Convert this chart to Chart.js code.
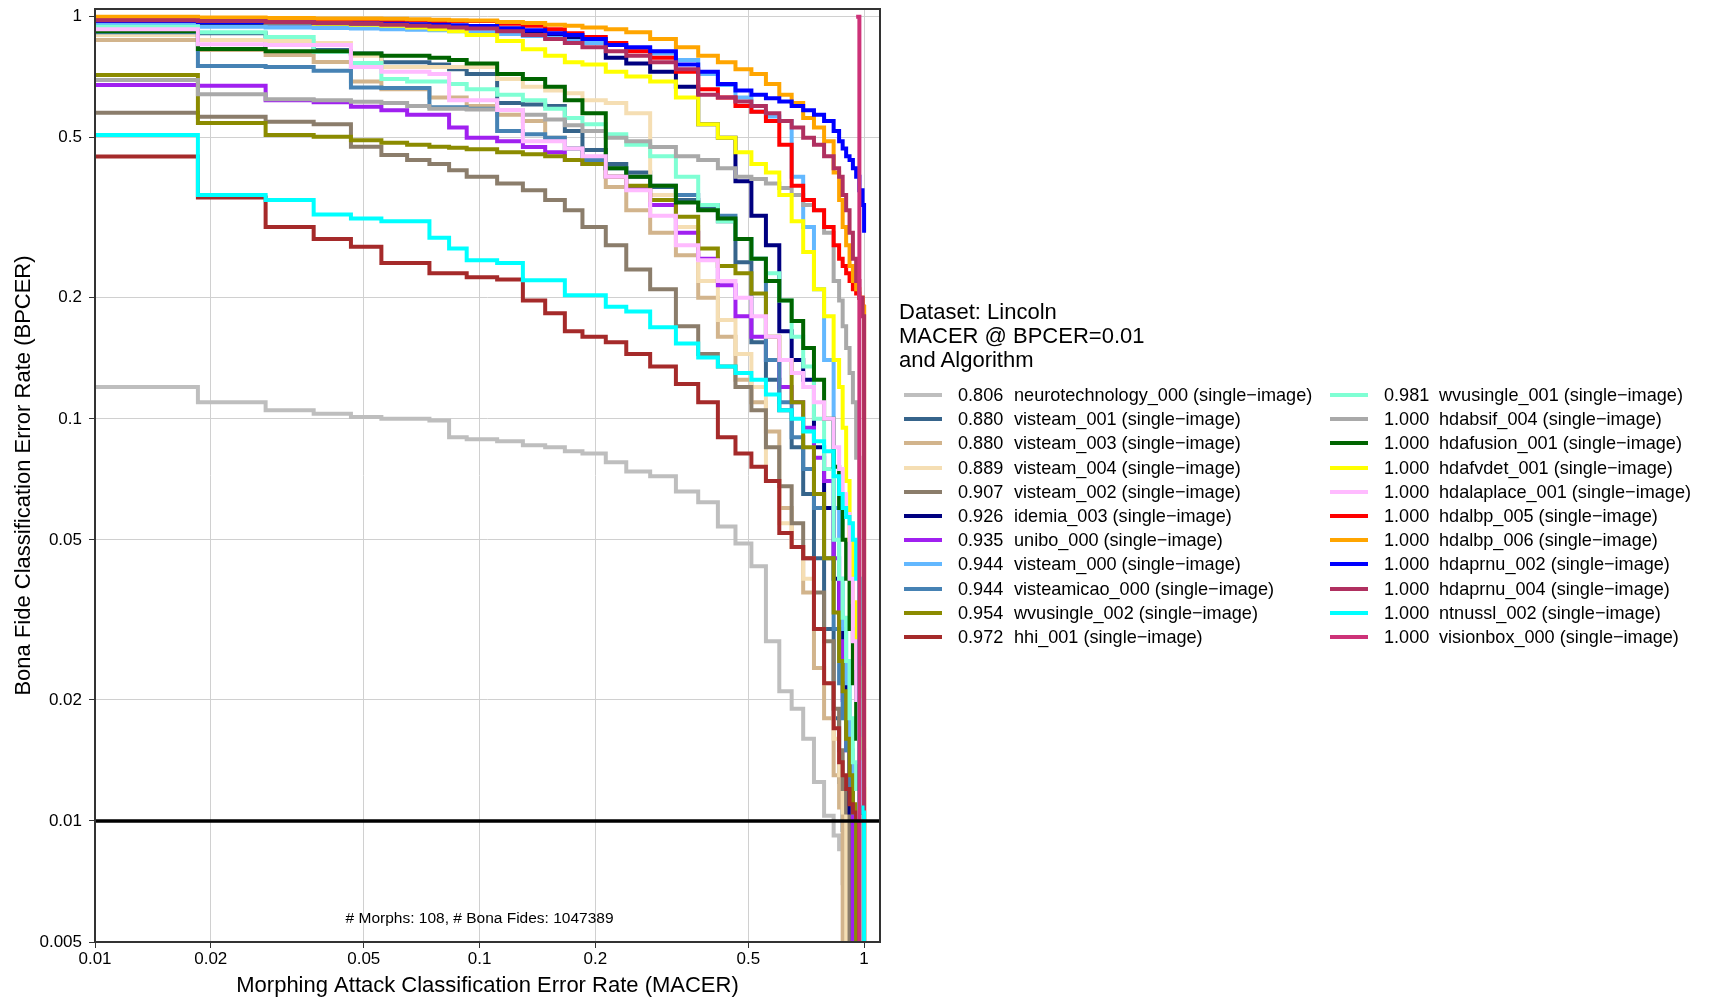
<!DOCTYPE html>
<html>
<head>
<meta charset="utf-8">
<title>DET curves - Lincoln</title>
<script src="https://cdn.jsdelivr.net/npm/chart.js@4.4.1/dist/chart.umd.min.js"></script>
<style>
  html, body { margin: 0; padding: 0; background: #fff; overflow: hidden; }
  #wrap { position: relative; width: 1709px; height: 1003px; font-family: "Liberation Sans", Arial, sans-serif; color: #000; }
  #det { position: absolute; left: 0; top: 0; }
  .lg-title { position: absolute; left: 899px; top: 300px; font-size: 22px; line-height: 24px; white-space: nowrap; }
  .lg-key { position: absolute; width: 38px; height: 4px; }
  .lg-text { position: absolute; font-size: 18.1px; line-height: 24px; white-space: nowrap; }
</style>
</head>
<body>
<div id="wrap">
  <canvas id="det" width="1709" height="1003"></canvas>
  <div id="legend"></div>
</div>
<script>
// Morphs accepted as bona fide out of 108; MACER = count / morphTotal
const morphTotal = 108;
const acceptedMorphs = [1, 2, 3, 4, 5, 6, 7, 8, 9, 10, 12, 14, 16, 18, 20, 23, 26, 30,
  35, 40, 45, 50, 55, 60, 65, 70, 75, 80, 85, 90, 93, 95, 97, 99, 101, 103, 105, 107, 108];

const algorithms = [
  'neurotechnology_000', 'visteam_001', 'visteam_003', 'visteam_004', 'visteam_002',
  'idemia_003', 'unibo_000', 'visteam_000', 'visteamicao_000', 'wvusingle_002', 'hhi_001',
  'wvusingle_001', 'hdabsif_004', 'hdafusion_001', 'hdafvdet_001', 'hdalaplace_001',
  'hdalbp_005', 'hdalbp_006', 'hdaprnu_002', 'hdaprnu_004', 'ntnussl_002', 'visionbox_000'
];
const macerAtBpcer001 = [0.806, 0.880, 0.880, 0.889, 0.907, 0.926, 0.935, 0.944, 0.944, 0.954, 0.972,
  0.981, 1.000, 1.000, 1.000, 1.000, 1.000, 1.000, 1.000, 1.000, 1.000, 1.000];

// BPCER reached at each entry of acceptedMorphs
const bpcerNeurotechnology000 = [0.12, 0.11, 0.105, 0.103, 0.101, 0.1, 0.1, 0.099, 0.09, 0.089,
  0.088, 0.086, 0.085, 0.083, 0.082, 0.078, 0.074, 0.072,
  0.066, 0.062, 0.054, 0.049, 0.043, 0.028, 0.021, 0.019, 0.016, 0.0125, 0.0103, 0.0092,
  0.0085, 0.007, 0.004];
const bpcerVisteam001 = [0.915, 0.91, 0.85, 0.826, 0.81, 0.77, 0.77, 0.76, 0.74, 0.72,
  0.61, 0.605, 0.6, 0.52, 0.466, 0.43, 0.41, 0.377,
  0.35, 0.335, 0.31, 0.245, 0.155, 0.125, 0.105, 0.085, 0.065, 0.045, 0.03, 0.018,
  0.0125, 0.0095, 0.004];
const bpcerVisteam003 = [0.875, 0.826, 0.803, 0.771, 0.69, 0.66, 0.66, 0.63, 0.63, 0.6,
  0.57, 0.55, 0.5, 0.47, 0.44, 0.377, 0.33, 0.29,
  0.255, 0.2, 0.16, 0.125, 0.11, 0.093, 0.06, 0.048, 0.037, 0.024, 0.018, 0.013,
  0.0108, 0.004];
const bpcerVisteam004 = [0.9, 0.875, 0.87, 0.86, 0.8, 0.75, 0.75, 0.75, 0.75, 0.75,
  0.7, 0.67, 0.655, 0.645, 0.62, 0.61, 0.575, 0.36,
  0.3, 0.22, 0.176, 0.145, 0.12, 0.07, 0.055, 0.048, 0.04, 0.03, 0.022, 0.016,
  0.013, 0.0105, 0.004];
const bpcerVisteam002 = [0.577, 0.564, 0.548, 0.54, 0.475, 0.453, 0.44, 0.43, 0.415, 0.4,
  0.385, 0.37, 0.35, 0.33, 0.3, 0.27, 0.235, 0.21,
  0.17, 0.145, 0.135, 0.12, 0.105, 0.085, 0.068, 0.055, 0.045, 0.037, 0.028, 0.019,
  0.015, 0.012, 0.0105, 0.004];
const bpcerIdemia003 = [0.977, 0.965, 0.962, 0.96, 0.958, 0.955, 0.952, 0.95, 0.947, 0.945,
  0.935, 0.92, 0.9, 0.88, 0.86, 0.79, 0.765, 0.73,
  0.67, 0.54, 0.5, 0.39, 0.32, 0.27, 0.165, 0.14, 0.125, 0.085, 0.06, 0.04,
  0.03, 0.022, 0.016, 0.0105, 0.004];
const bpcerUnibo000 = [0.676, 0.673, 0.62, 0.613, 0.597, 0.585, 0.57, 0.57, 0.53, 0.5,
  0.49, 0.474, 0.46, 0.44, 0.43, 0.4, 0.377, 0.34,
  0.29, 0.25, 0.215, 0.18, 0.16, 0.14, 0.12, 0.11, 0.095, 0.08, 0.07, 0.045,
  0.028, 0.02, 0.015, 0.012, 0.004];
const bpcerVisteam000 = [0.954, 0.944, 0.94, 0.937, 0.934, 0.93, 0.928, 0.925, 0.92, 0.915,
  0.905, 0.895, 0.885, 0.87, 0.86, 0.85, 0.835, 0.81,
  0.78, 0.72, 0.676, 0.63, 0.58, 0.565, 0.55, 0.4, 0.3, 0.21, 0.14, 0.06,
  0.04, 0.03, 0.022, 0.015, 0.0105, 0.004];
const bpcerVisteamicao000 = [0.915, 0.754, 0.75, 0.734, 0.667, 0.665, 0.665, 0.595, 0.595, 0.59,
  0.52, 0.51, 0.5, 0.47, 0.44, 0.42, 0.4, 0.38,
  0.36, 0.34, 0.32, 0.28, 0.25, 0.14, 0.11, 0.09, 0.075, 0.06, 0.045, 0.03,
  0.022, 0.018, 0.015, 0.012, 0.0105, 0.004];
const bpcerWvusingle002 = [0.716, 0.544, 0.508, 0.503, 0.493, 0.486, 0.48, 0.475, 0.472, 0.468,
  0.46, 0.455, 0.45, 0.44, 0.43, 0.4, 0.38, 0.35,
  0.318, 0.265, 0.24, 0.23, 0.205, 0.16, 0.14, 0.11, 0.085, 0.065, 0.045, 0.033,
  0.025, 0.021, 0.016, 0.013, 0.011, 0.004];
const bpcerHhi001 = [0.449, 0.355, 0.3, 0.28, 0.268, 0.244, 0.244, 0.23, 0.23, 0.225,
  0.222, 0.197, 0.183, 0.165, 0.16, 0.155, 0.145, 0.135,
  0.122, 0.11, 0.09, 0.082, 0.076, 0.07, 0.052, 0.048, 0.045, 0.03, 0.022, 0.017,
  0.014, 0.013, 0.012, 0.011, 0.0105, 0.0102, 0.004];
const bpcerWvusingle001 = [0.944, 0.915, 0.89, 0.818, 0.767, 0.7, 0.69, 0.69, 0.68, 0.66,
  0.64, 0.62, 0.59, 0.56, 0.54, 0.51, 0.48, 0.45,
  0.4, 0.34, 0.31, 0.28, 0.25, 0.23, 0.197, 0.16, 0.135, 0.1, 0.075, 0.05,
  0.04, 0.032, 0.025, 0.018, 0.014, 0.012, 0.0102, 0.004];
const bpcerHdabsif004 = [0.696, 0.641, 0.623, 0.62, 0.614, 0.61, 0.6, 0.59, 0.59, 0.588,
  0.586, 0.57, 0.555, 0.537, 0.52, 0.5, 0.49, 0.474,
  0.45, 0.44, 0.42, 0.4, 0.395, 0.385, 0.375, 0.36, 0.34, 0.33, 0.29, 0.22,
  0.197, 0.17, 0.15, 0.13, 0.11, 0.08, 0.04, 0.015, 0.004];
const bpcerHdafusion001 = [0.92, 0.831, 0.82, 0.82, 0.81, 0.8, 0.8, 0.79, 0.78, 0.765,
  0.72, 0.7, 0.67, 0.62, 0.575, 0.42, 0.4, 0.38,
  0.345, 0.33, 0.315, 0.28, 0.25, 0.22, 0.197, 0.175, 0.15, 0.125, 0.1, 0.076,
  0.06, 0.05, 0.04, 0.03, 0.022, 0.016, 0.012, 0.0105, 0.004];
const bpcerHdafvdet001 = [0.975, 0.97, 0.965, 0.96, 0.955, 0.95, 0.94, 0.93, 0.92, 0.9,
  0.87, 0.83, 0.8, 0.77, 0.76, 0.73, 0.71, 0.69,
  0.63, 0.54, 0.5, 0.46, 0.43, 0.41, 0.36, 0.31, 0.26, 0.21, 0.18, 0.14,
  0.12, 0.095, 0.07, 0.05, 0.035, 0.024, 0.016, 0.012, 0.004];
const bpcerHdalaplace001 = [0.93, 0.854, 0.85, 0.85, 0.75, 0.73, 0.73, 0.72, 0.62, 0.62,
  0.586, 0.49, 0.49, 0.47, 0.45, 0.4, 0.37, 0.32,
  0.27, 0.248, 0.22, 0.2, 0.18, 0.16, 0.14, 0.13, 0.12, 0.11, 0.1, 0.085,
  0.075, 0.065, 0.058, 0.04, 0.028, 0.02, 0.014, 0.011, 0.004];
const bpcerHdalbp005 = [0.998, 0.99, 0.988, 0.985, 0.983, 0.98, 0.978, 0.976, 0.975, 0.975,
  0.96, 0.95, 0.93, 0.91, 0.89, 0.86, 0.82, 0.79,
  0.73, 0.66, 0.63, 0.6, 0.58, 0.55, 0.48, 0.38, 0.35, 0.33, 0.3, 0.27,
  0.25, 0.24, 0.23, 0.22, 0.21, 0.205, 0.2, 0.19, 0.004];
const bpcerHdalbp006 = [1.0, 0.995, 0.993, 0.99, 0.99, 0.988, 0.985, 0.983, 0.98, 0.978,
  0.97, 0.965, 0.955, 0.95, 0.94, 0.93, 0.915, 0.88,
  0.84, 0.8, 0.77, 0.74, 0.72, 0.68, 0.64, 0.61, 0.56, 0.53, 0.49, 0.41,
  0.35, 0.3, 0.27, 0.24, 0.22, 0.21, 0.2, 0.19, 0.004];
const bpcerHdaprnu002 = [0.975, 0.97, 0.967, 0.965, 0.962, 0.96, 0.957, 0.955, 0.952, 0.948,
  0.935, 0.925, 0.91, 0.9, 0.88, 0.85, 0.84, 0.82,
  0.76, 0.73, 0.68, 0.655, 0.64, 0.627, 0.615, 0.6, 0.585, 0.57, 0.55, 0.52,
  0.49, 0.47, 0.45, 0.44, 0.42, 0.4, 0.37, 0.34, 0.29];
const bpcerHdaprnu004 = [0.98, 0.975, 0.97, 0.965, 0.96, 0.955, 0.95, 0.945, 0.94, 0.935,
  0.92, 0.9, 0.88, 0.86, 0.84, 0.82, 0.8, 0.77,
  0.74, 0.64, 0.63, 0.615, 0.6, 0.575, 0.55, 0.53, 0.5, 0.48, 0.45, 0.42,
  0.4, 0.36, 0.33, 0.29, 0.25, 0.22, 0.2, 0.18, 0.004];
const bpcerNtnussl002 = [0.508, 0.36, 0.35, 0.322, 0.315, 0.31, 0.31, 0.282, 0.265, 0.248,
  0.244, 0.221, 0.221, 0.203, 0.203, 0.19, 0.185, 0.169,
  0.154, 0.142, 0.135, 0.13, 0.125, 0.115, 0.105, 0.1, 0.093, 0.088, 0.083, 0.072,
  0.065, 0.06, 0.057, 0.055, 0.05, 0.04, 0.0108, 0.0105, 0.004];
// visionbox stays at MACER ~0.97 over the whole threshold range
const bpcerVisionbox000 = [null, null, null, null, null, null, null, null, null, null,
  null, null, null, null, null, null, null, null,
  null, null, null, null, null, null, null, null, null, null, null, null,
  null, null, null, null, null, 1.0, 0.004];

const bpcerSeries = [
  bpcerNeurotechnology000, bpcerVisteam001, bpcerVisteam003, bpcerVisteam004, bpcerVisteam002,
  bpcerIdemia003, bpcerUnibo000, bpcerVisteam000, bpcerVisteamicao000, bpcerWvusingle002, bpcerHhi001,
  bpcerWvusingle001, bpcerHdabsif004, bpcerHdafusion001, bpcerHdafvdet001, bpcerHdalaplace001,
  bpcerHdalbp005, bpcerHdalbp006, bpcerHdaprnu002, bpcerHdaprnu004, bpcerNtnussl002, bpcerVisionbox000
];

const xTicks = [0.01, 0.02, 0.05, 0.1, 0.2, 0.5, 1];
const xTickLabels = ['0.01', '0.02', '0.05', '0.1', '0.2', '0.5', '1'];
const yTicks = [0.005, 0.01, 0.02, 0.05, 0.1, 0.2, 0.5, 1];
const yTickLabels = ['0.005', '0.01', '0.02', '0.05', '0.1', '0.2', '0.5', '1'];
const operatingBpcer = 0.01;
const countsNote = '# Morphs: 108, # Bona Fides: 1047389';

const lineColors = [
  '#BEBEBE', '#36648B', '#D2B48C', '#F5DEB3', '#8B7D6B', '#000080', '#A020F0', '#63B8FF',
  '#4682B4', '#8B8B00', '#A52A2A', '#7FFFD4', '#A9A9A9', '#006400', '#FFFF00', '#FFBBFF',
  '#FF0000', '#FFA500', '#0000FF', '#B03060', '#00FFFF', '#CD3278'
];

const FONT = '"Liberation Sans", Arial, sans-serif';
Chart.defaults.font.family = FONT;
Chart.defaults.color = '#000';

// threshold line, sample-size note and panel frame on top of the curves
const panelExtras = {
  id: 'panelExtras',
  afterDatasetsDraw(chart) {
    const { ctx, chartArea: a, scales } = chart;
    ctx.save();
    const yOp = scales.y.getPixelForValue(operatingBpcer);
    ctx.strokeStyle = '#000';
    ctx.lineWidth = 3.5;
    ctx.beginPath();
    ctx.moveTo(a.left, yOp);
    ctx.lineTo(a.right, yOp);
    ctx.stroke();

    ctx.font = '15.5px ' + FONT;
    ctx.fillStyle = '#000';
    ctx.textAlign = 'center';
    ctx.textBaseline = 'middle';
    ctx.fillText(countsNote, scales.x.getPixelForValue(0.1), scales.y.getPixelForValue(0.0057));

    ctx.strokeStyle = '#333';
    ctx.lineWidth = 2;
    ctx.strokeRect(a.left, a.top, a.right - a.left, a.bottom - a.top);
    ctx.restore();
  }
};

const datasets = algorithms.map((name, i) => ({
  label: name,
  data: bpcerSeries[i].map((v, j) => ({ x: acceptedMorphs[j] / morphTotal, y: v })),
  borderColor: lineColors[i],
  backgroundColor: lineColors[i],
  borderWidth: 4,
  pointRadius: 0,
  stepped: true,
  fill: false,
  order: algorithms.length - i
}));

const gridStyle = { color: '#d0d0d0', lineWidth: 1, tickColor: '#333', tickLength: 6 };

new Chart(document.getElementById('det'), {
  type: 'line',
  data: { datasets },
  options: {
    responsive: false,
    animation: false,
    events: [],
    layout: { padding: { left: 0, top: 9, right: 829, bottom: 0 } },
    plugins: { legend: { display: false }, tooltip: { enabled: false } },
    scales: {
      x: {
        type: 'logarithmic',
        min: 0.01,
        max: 1.1,
        afterBuildTicks: s => { s.ticks = xTicks.map(v => ({ value: v })); },
        afterFit: s => { s.height = 61; s.paddingLeft = 0; s.paddingRight = 0; },
        ticks: {
          callback: v => xTickLabels[xTicks.indexOf(v)] ?? '',
          font: { size: 17 }, color: '#000', padding: 1, autoSkip: false, maxRotation: 0
        },
        grid: gridStyle,
        border: { display: false },
        title: {
          display: true, text: 'Morphing Attack Classification Error Rate (MACER)',
          font: { size: 22 }, color: '#000', padding: { top: 0, bottom: 4 }
        }
      },
      y: {
        type: 'logarithmic',
        min: 0.005,
        max: 1.045,
        afterBuildTicks: s => { s.ticks = yTicks.map(v => ({ value: v })); },
        afterFit: s => { s.width = 95; s.paddingTop = 0; s.paddingBottom = 0; },
        ticks: {
          callback: v => yTickLabels[yTicks.indexOf(v)] ?? '',
          font: { size: 17 }, color: '#000', padding: 7, autoSkip: false
        },
        grid: gridStyle,
        border: { display: false },
        title: {
          display: true, text: 'Bona Fide Classification Error Rate (BPCER)',
          font: { size: 22 }, color: '#000', padding: { top: 11, bottom: 0 }
        }
      }
    }
  },
  plugins: [panelExtras]
});

// legend: title plus two columns of key, MACER value and algorithm name
const legend = document.getElementById('legend');
const title = document.createElement('div');
title.className = 'lg-title';
title.innerHTML = 'Dataset: Lincoln<br>MACER @ BPCER=0.01<br>and Algorithm';
legend.appendChild(title);

algorithms.forEach((name, i) => {
  const col = i < 11 ? 0 : 1;
  const row = i % 11;
  const cy = 395 + row * 24.2;
  const keyX = col ? 1330 : 904;
  const valX = col ? 1384 : 958;
  const nameX = col ? 1439 : 1014;

  const key = document.createElement('div');
  key.className = 'lg-key';
  key.style.left = keyX + 'px';
  key.style.top = (cy - 2) + 'px';
  key.style.background = lineColors[i];
  legend.appendChild(key);

  const val = document.createElement('div');
  val.className = 'lg-text';
  val.style.left = valX + 'px';
  val.style.top = (cy - 12) + 'px';
  val.textContent = macerAtBpcer001[i].toFixed(3);
  legend.appendChild(val);

  const lab = document.createElement('div');
  lab.className = 'lg-text';
  lab.style.left = nameX + 'px';
  lab.style.top = (cy - 12) + 'px';
  lab.textContent = name + ' (single\u2212image)';
  legend.appendChild(lab);
});
</script>
</body>
</html>
